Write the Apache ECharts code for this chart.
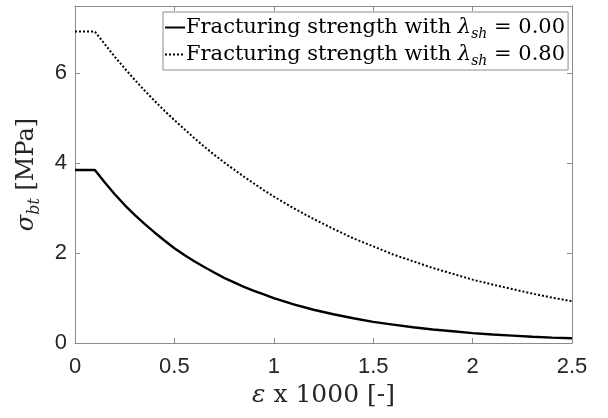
<!DOCTYPE html>
<html>
<head>
<meta charset="utf-8">
<script src="https://cdn.jsdelivr.net/npm/echarts@6/dist/echarts.min.js"></script>
<style>
  html, body { margin: 0; padding: 0; background: #fff; }
  #box { width: 608px; height: 418px; }
</style>
</head>
<body>
<div id="box"></div>
<script>
// strain x 1000
const strain = [0, 0.1, 0.15, 0.2, 0.25, 0.3, 0.35, 0.4, 0.45, 0.5, 0.55, 0.6, 0.65, 0.7, 0.75,
  0.8, 0.85, 0.9, 0.95, 1.0, 1.1, 1.2, 1.3, 1.4, 1.5, 1.6, 1.7, 1.8, 1.9, 2.0, 2.1, 2.2, 2.3, 2.4, 2.5];
// fracturing strength, lambda_sh = 0.00
const strength000 = [3.85, 3.85, 3.57, 3.31, 3.07, 2.85, 2.65, 2.46, 2.28, 2.11, 1.96, 1.82, 1.69, 1.57, 1.45,
  1.35, 1.25, 1.16, 1.08, 1.00, 0.86, 0.74, 0.64, 0.55, 0.47, 0.41, 0.35, 0.30, 0.26, 0.22, 0.19, 0.165, 0.14, 0.12, 0.105];
// fracturing strength, lambda_sh = 0.80
const strength080 = [6.93, 6.93, 6.65, 6.37, 6.11, 5.86, 5.62, 5.39, 5.17, 4.96, 4.76, 4.56, 4.37, 4.19, 4.02,
  3.86, 3.70, 3.55, 3.40, 3.26, 3.00, 2.76, 2.54, 2.33, 2.15, 1.97, 1.82, 1.67, 1.54, 1.41, 1.30, 1.20, 1.10, 1.01, 0.93];
const xTicks = [0, 0.5, 1, 1.5, 2, 2.5];
const yTicks = [0, 2, 4, 6];

const names = ['Fracturing strength with λsh = 0.00', 'Fracturing strength with λsh = 0.80'];

const pair = (xs, ys) => xs.map((x, i) => [x, ys[i]]);

const axisColor = '#8c8c8c';
const tickFont = { fontFamily: 'Liberation Sans, Arial, sans-serif', fontSize: 22, color: '#262626' };
const serif = 'DejaVu Serif, serif';

let myChart = echarts.init(document.getElementById('box'));

let option = {
    animation: false,
    grid: { left: 75, right: 36, top: 6, bottom: 75 },
    legend: {
        left: 163,
        top: 12,
        orient: 'vertical',
        data: names,
        itemWidth: 20,
        itemHeight: 10,
        itemGap: 0,
        padding: [2, 3, 2, 1],
        backgroundColor: '#fff',
        borderColor: axisColor,
        borderWidth: 1,
        itemStyle: { opacity: 0 },
        formatter: function (name) {
            let v = name.split('= ')[1];
            return 'Fracturing strength with {it|λ}{sub|sh} = ' + v;
        },
        textStyle: {
            fontFamily: serif,
            fontSize: 21,
            color: '#000',
            lineHeight: 27,
            padding: [0, 0, 0, -4],
            rich: {
                it: { fontFamily: serif, fontStyle: 'italic', fontSize: 21, lineHeight: 27 },
                sub: { fontFamily: serif, fontStyle: 'italic', fontSize: 14, lineHeight: 27, verticalAlign: 'bottom' }
            }
        }
    },
    xAxis: [{
        type: 'value',
        min: 0, max: 2.5, interval: 0.5,
        name: '{it|ε} x 1000 [-]',
        nameLocation: 'middle',
        nameGap: 40,
        nameTextStyle: {
            fontFamily: serif, fontSize: 25, color: '#262626',
            rich: { it: { fontFamily: serif, fontStyle: 'italic', fontSize: 25 } }
        },
        axisLine: { show: true, onZero: false, lineStyle: { color: axisColor, width: 1 } },
        axisTick: { inside: true, length: 5, lineStyle: { color: axisColor } },
        axisLabel: Object.assign({ margin: 13, formatter: v => xTicks.indexOf(v) >= 0 ? String(v) : '' }, tickFont),
        splitLine: { show: false }
    }, {
        type: 'value',
        position: 'top',
        min: 0, max: 2.5, interval: 0.5,
        axisLine: { show: true, onZero: false, lineStyle: { color: axisColor, width: 1 } },
        axisTick: { inside: true, length: 5, lineStyle: { color: axisColor } },
        axisLabel: { show: false },
        splitLine: { show: false }
    }],
    yAxis: [{
        type: 'value',
        min: 0, max: 7.5, interval: 2,
        name: '{it|σ}{sub|bt} [MPa]',
        nameLocation: 'middle',
        nameGap: 32,
        nameRotate: 90,
        nameTextStyle: {
            fontFamily: serif, fontSize: 24, color: '#262626', lineHeight: 32,
            rich: {
                it: { fontFamily: serif, fontStyle: 'italic', fontSize: 24, lineHeight: 32 },
                sub: { fontFamily: serif, fontStyle: 'italic', fontSize: 16, lineHeight: 32, verticalAlign: 'bottom' }
            }
        },
        axisLine: { show: true, onZero: false, lineStyle: { color: axisColor, width: 1 } },
        axisTick: { inside: true, length: 5, lineStyle: { color: axisColor } },
        axisLabel: Object.assign({ margin: 8, showMaxLabel: false, formatter: v => yTicks.indexOf(v) >= 0 ? String(v) : '' }, tickFont),
        splitLine: { show: false }
    }, {
        type: 'value',
        position: 'right',
        min: 0, max: 7.5, interval: 2,
        axisLine: { show: true, onZero: false, lineStyle: { color: axisColor, width: 1 } },
        axisTick: { inside: true, length: 5, lineStyle: { color: axisColor } },
        axisLabel: { show: false },
        splitLine: { show: false }
    }],
    series: [
        {
            name: names[0],
            type: 'line',
            data: pair(strain, strength000),
            symbol: 'none',
            lineStyle: { color: '#000', width: 2.4, type: 'solid' },
            itemStyle: { color: '#000' }
        },
        {
            name: names[1],
            type: 'line',
            data: pair(strain, strength080),
            symbol: 'none',
            lineStyle: { color: '#000', width: 2, type: [2, 2] },
            itemStyle: { color: '#000' }
        }
    ]
};
myChart.setOption(option);
</script>
</body>
</html>
